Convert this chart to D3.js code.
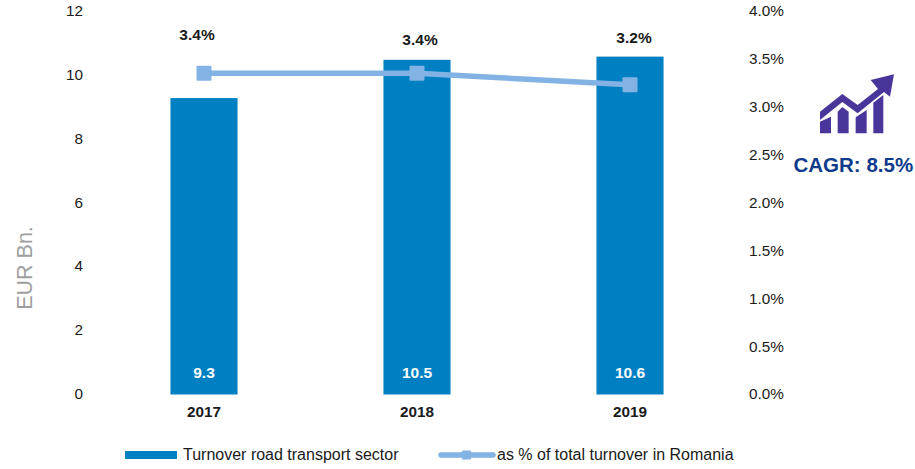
<!DOCTYPE html>
<html><head><meta charset="utf-8">
<script src="https://cdnjs.cloudflare.com/ajax/libs/d3/7.8.5/d3.min.js"></script>
<style>html,body{margin:0;padding:0;background:#fff}svg{display:block}text{font-family:"Liberation Sans",Arial,sans-serif}</style>
</head><body><div id="c"></div>
<script>
const categories=["2017","2018","2019"];
const turnover=[9.3,10.5,10.6];
const share=[3.35,3.35,3.23];
const shareLabels=["3.4%","3.4%","3.2%"];
const leftTicks=[0,2,4,6,8,10,12];
const rightTicks=[0,0.5,1,1.5,2,2.5,3,3.5,4];
const legendLabels=["Turnover road transport sector","as % of total turnover in Romania"];
const cagrLabel="CAGR: 8.5%";
const axisTitle="EUR Bn.";

const svg=d3.select("#c").append("svg").attr("width",915).attr("height",469);
const x=d3.scaleBand().domain(categories).range([97.5,736.5]).paddingInner(0.685).paddingOuter(0.3425);
const y=d3.scaleLinear().domain([0,12]).range([394.5,12]);
const y2=d3.scaleLinear().domain([0,4]).range([394,11]);
const cx=d=>x(d)+x.bandwidth()/2;
const barColor="#0080C3",lineColor="#83B2E4",txt="#1a1a1a";

svg.selectAll("rect.bar").data(categories).join("rect").attr("class","bar")
  .attr("x",d=>x(d)).attr("width",x.bandwidth())
  .attr("y",(d,i)=>y(turnover[i])).attr("height",(d,i)=>y(0)-y(turnover[i])).attr("fill",barColor);

const lAxis=svg.append("g").attr("transform","translate(97,-1)")
  .call(d3.axisLeft(y).tickValues(leftTicks).tickSize(0).tickPadding(14));
const rAxis=svg.append("g").attr("transform","translate(736,0)")
  .call(d3.axisRight(y2).tickValues(rightTicks).tickSize(0).tickPadding(13).tickFormat(d=>d.toFixed(1)+"%"));
const xAxis=svg.append("g").attr("transform","translate(0,394)")
  .call(d3.axisBottom(x).tickSize(0).tickPadding(12));
[lAxis,rAxis,xAxis].forEach(a=>{a.select(".domain").remove();a.selectAll("text").attr("fill",txt).style("font-family","'Liberation Sans',Arial,sans-serif").style("font-size","15.3px");});
xAxis.selectAll("text").style("font-weight","bold").style("font-size","15.3px");

svg.append("path").datum(share)
  .attr("d",d3.line().x((d,i)=>cx(categories[i])).y(d=>y2(d)))
  .attr("fill","none").attr("stroke",lineColor).attr("stroke-width",5.5);
svg.selectAll("rect.pt").data(share).join("rect").attr("class","pt")
  .attr("x",(d,i)=>cx(categories[i])-7.5).attr("y",d=>y2(d)-7.5).attr("width",15).attr("height",15).attr("rx",1).attr("fill",lineColor);

const labelDx=[-7,3,4], labelY=[40,45,43];
svg.selectAll("text.sl").data(shareLabels).join("text").attr("class","sl")
  .attr("x",(d,i)=>cx(categories[i])+labelDx[i]).attr("y",(d,i)=>labelY[i]).attr("text-anchor","middle")
  .attr("font-size",15.5).attr("font-weight","bold").attr("fill",txt).text(d=>d);
svg.selectAll("text.vl").data(turnover).join("text").attr("class","vl")
  .attr("x",(d,i)=>cx(categories[i])).attr("y",378).attr("text-anchor","middle")
  .attr("font-size",15.5).attr("font-weight","bold").attr("fill","#fff").text(d=>d.toFixed(1));

svg.append("text").attr("transform","translate(32,268) rotate(-90)").attr("text-anchor","middle")
  .attr("font-size",21.5).attr("fill","#A0A0A0").text(axisTitle);

// legend
svg.append("rect").attr("x",125).attr("y",451).attr("width",52).attr("height",8).attr("fill",barColor);
svg.append("text").attr("x",183).attr("y",460).attr("font-size",16).attr("fill",txt).text(legendLabels[0]);
svg.append("line").attr("x1",441).attr("x2",493).attr("y1",455).attr("y2",455).attr("stroke",lineColor).attr("stroke-width",5.5).attr("stroke-linecap","round");
svg.append("rect").attr("x",462).attr("y",450.5).attr("width",9).attr("height",9).attr("rx",1).attr("fill",lineColor);
svg.append("text").attr("x",497).attr("y",460).attr("font-size",16).attr("fill",txt).text(legendLabels[1]);

// CAGR icon
const icon=svg.append("g").attr("fill","#4A369B").attr("transform","translate(780,60) scale(0.3333)");
icon.append("path").attr("d","M120 220V185L153 170V220Z");
icon.append("path").attr("d","M173 220V155L187 141L206 155V220Z");
icon.append("path").attr("d","M227 220V172L260 150V220Z");
icon.append("path").attr("d","M280 220V128L310 105V220Z");
icon.append("path").attr("d","M120 155L187 102L233 135L294 87L272 60L342 43L330 110L312 96L233 160L187 126L120 180Z");
svg.append("text").attr("x",793.5).attr("y",172).attr("font-size",20.5).attr("font-weight","bold").attr("fill","#0F3B8C").text(cagrLabel);
</script></body></html>
